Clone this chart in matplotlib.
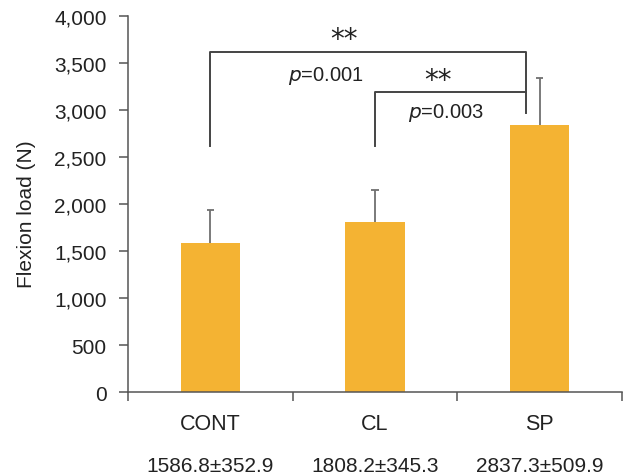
import matplotlib.pyplot as plt
import numpy as np
from matplotlib.ticker import FuncFormatter, FixedLocator

plt.rcParams['font.family'] = ['Liberation Sans', 'DejaVu Sans']

groups = ['CONT', 'CL', 'SP']
means = np.array([1586.8, 1808.2, 2837.3])
sds = np.array([352.9, 345.3, 509.9])
value_labels = ['1586.8±352.9', '1808.2±345.3', '2837.3±509.9']
yticks = np.arange(0, 4001, 500)

bar_color = '#F4B333'
line_color = '#444444'
text_color = '#222222'

fig = plt.figure(figsize=(6.25, 4.77), dpi=100)
ax = fig.add_axes([0.205, 0.176, 0.79, 0.788])

x = np.arange(len(groups))
ax.bar(x, means, width=0.36, color=bar_color, zorder=2)
# upper error bars only, cap at the top
ax.vlines(x, means, means + sds, color='#707070', lw=1.3, zorder=3)
ax.hlines(means + sds, x - 0.022, x + 0.022, color='#707070', lw=1.3, zorder=3)

ax.set_xlim(-0.5, 2.5)
ax.set_ylim(0, 4000)
ax.set_yticks(yticks)
ax.yaxis.set_major_formatter(FuncFormatter(lambda v, p: f'{int(v):,}'))
ax.set_xticks(x)
ax.set_xticklabels(groups)
ax.xaxis.set_minor_locator(FixedLocator([-0.5, 0.5, 1.5, 2.5]))
ax.tick_params(axis='x', which='major', length=0, pad=15, labelsize=15.5, colors=text_color)
ax.tick_params(axis='x', which='minor', length=6.5, width=1.1, color='#555555', direction='out')
ax.tick_params(axis='y', length=6.5, width=1.1, color='#555555', pad=9,
               labelsize=15, labelcolor=text_color)

for s in ['top', 'right']:
    ax.spines[s].set_visible(False)
for s in ['left', 'bottom']:
    ax.spines[s].set_color('#555555')
    ax.spines[s].set_linewidth(1.1)

ax.set_ylabel('Flexion load (N)', fontsize=15, color=text_color)
ax.yaxis.set_label_coords(-0.186, 0.476)

# value labels under group names
for xi, lab in zip(x, value_labels):
    ax.text(xi, -0.195, lab, transform=ax.get_xaxis_transform(), ha='center', va='center',
            fontsize=15, color=text_color)

# significance brackets
ax.plot([0, 0, 1.92, 1.92], [2620, 3620, 3620, 2970], color=line_color, lw=1.4, zorder=4)
ax.plot([1, 1, 1.92], [2620, 3190, 3190], color=line_color, lw=1.4, zorder=4)
ax.text(0.81, 3760, '**', ha='center', va='center', fontsize=20, color=text_color,
        family='DejaVu Sans')
ax.text(0.70, 3370, r'$p$=0.001', ha='center', va='center', fontsize=14.5, color=text_color)
ax.text(1.38, 3320, '**', ha='center', va='center', fontsize=20, color=text_color,
        family='DejaVu Sans')
ax.text(1.43, 2975, r'$p$=0.003', ha='center', va='center', fontsize=14.5, color=text_color)

plt.savefig('out.png', dpi=100)
